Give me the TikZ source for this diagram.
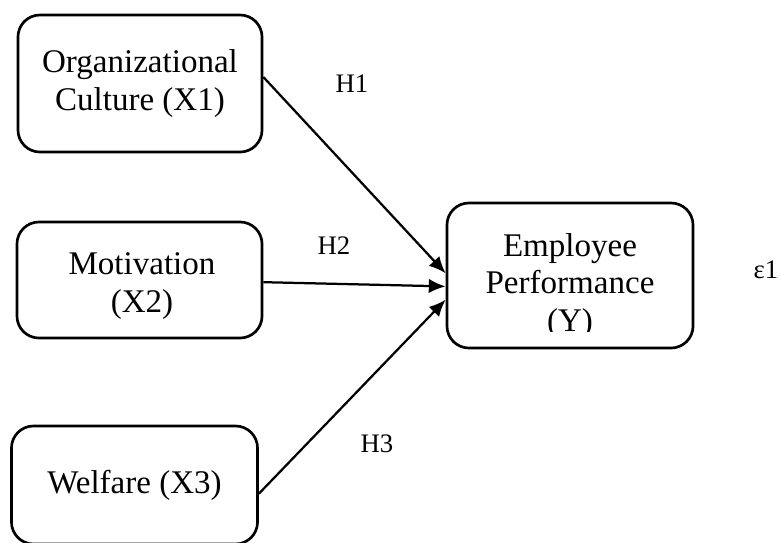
\documentclass[tikz,border=0pt]{standalone}
\usepackage{fontspec}
\setmainfont{Liberation Serif}
\usetikzlibrary{arrows.meta}

\tikzset{
  varbox/.style={draw, line width=1.9pt, rounded corners=0.55cm, align=center,
    font=\fontsize{23.5}{26.8}\selectfont},
  hlabel/.style={font=\fontsize{19}{22}\selectfont},
  hpath/.style={-{Latex[length=0.42cm,width=0.36cm]}, line width=1.6pt},
}

\begin{document}
\begin{tikzpicture}[x=0.025cm, y=-0.025cm]
\useasboundingbox (0,0) rectangle (780,542);

% independent variables
\node[varbox, minimum width=6.1cm, minimum height=3.425cm] (X1) at (140,83.5) {Organizational\\Culture (X1)};
\node[varbox, minimum width=6.125cm, minimum height=2.9cm] (X2) at (139.5,280) {};
\node[varbox, draw=none] (X2text) at (142,286) {Motivation\\(X2)};
\node[varbox, minimum width=6.15cm, minimum height=2.95cm] (X3) at (134.5,485) {Welfare (X3)};

% dependent variable
\node[varbox, minimum width=6.15cm, minimum height=3.625cm] (Y) at (570,275.5) {};
\begin{scope}
\clip (447,200) rectangle (693,331);
\node[varbox, draw=none] (Ytext) at (570,286) {Employee\\Performance\\(Y)};
\end{scope}

\node[hlabel] (eps) at (766,270) {ε1};

% hypotheses
\draw[hpath] (X1.3.5) -- (Y.179);
\draw[hpath] (X2.-1) -- (Y.185);
\draw[hpath] (X3.-4) -- (Y.191);

\node[hlabel] (H1) at (352,84) {H1};
\node[hlabel] (H2) at (334,246) {H2};
\node[hlabel] (H3) at (377,444) {H3};

\end{tikzpicture}
\end{document}
